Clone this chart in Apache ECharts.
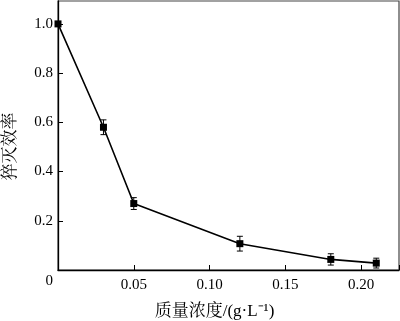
<!DOCTYPE html>
<html>
<head>
<meta charset="utf-8">
<script src="https://cdn.jsdelivr.net/npm/echarts@6/dist/echarts.min.js"></script>
<style>html,body{margin:0;padding:0;background:#fff;}#c{width:400px;height:321px;}</style>
</head>
<body>
<div id="c"></div>
<script>
const concentration = [0, 0.03, 0.05, 0.12, 0.18, 0.21];
const efficiency = [1.0, 0.58, 0.27, 0.107, 0.043, 0.028];
const errorBars = [0, 0.03, 0.024, 0.03, 0.023, 0.02];
const xTicks = [0.05, 0.10, 0.15, 0.20];
const yTicks = [0, 0.2, 0.4, 0.6, 0.8, 1.0];
const xTitle = '质量浓度/(g·L⁻¹)';
const yTitle = '猝灭效率';

const serif = '"Liberation Serif", "Times New Roman", serif';
const cjk = '"Liberation Serif", "Noto Serif CJK SC", "Noto Sans CJK SC", serif';

const lineData = concentration.map((x, i) => [x, efficiency[i]]);
const errData = concentration.map((x, i) => [x, efficiency[i] - errorBars[i], efficiency[i] + errorBars[i]]).filter((d, i) => errorBars[i] > 0);

const chart = echarts.init(document.getElementById('c'));
chart.setOption({
  animation: false,
  grid: { left: 58, right: 1, top: 1, bottom: 51, containLabel: false, outerBoundsMode: 'none',
          show: true, borderColor: '#444', borderWidth: 1.2, backgroundColor: 'transparent' },
  xAxis: {
    type: 'value', min: 0, max: 0.225, interval: 0.05,
    axisLine: { show: true, onZero: false, lineStyle: { color: '#000', width: 1.3 } },
    axisTick: { show: true, inside: true, length: 5, lineStyle: { color: '#000', width: 1 } },
    splitLine: { show: false },
    axisLabel: {
      margin: 8, color: '#000', fontFamily: serif, fontSize: 15,
      formatter: v => (v === 0 ? '' : (xTicks.find(t => Math.abs(t - v) < 1e-9) !== undefined ? v.toFixed(2) : ''))
    },
    name: xTitle, nameLocation: 'middle', nameGap: 33,
    nameTextStyle: { color: '#000', fontFamily: cjk, fontSize: 17, padding: [0, 28, 0, 0] }
  },
  yAxis: {
    type: 'value', min: 0, max: 1.093, interval: 0.2,
    axisLine: { show: true, onZero: false, lineStyle: { color: '#000', width: 1.3 } },
    axisTick: { show: true, inside: true, length: 5, lineStyle: { color: '#000', width: 1 } },
    splitLine: { show: false },
    axisLabel: {
      margin: 5, color: '#000', fontFamily: serif, fontSize: 15, showMaxLabel: false,
      formatter: v => {
        const t = yTicks.find(t => Math.abs(t - v) < 1e-9);
        if (t === undefined) return '';
        return t === 0 ? '{z|0}' : t.toFixed(1);
      },
      rich: { z: { fontFamily: serif, fontSize: 15, color: '#000', padding: [22, 0, 0, 0] } }
    },
    name: yTitle, nameLocation: 'middle', nameGap: 39,
    nameTextStyle: { color: '#000', fontFamily: cjk, fontSize: 17, padding: [0, 22, 0, 0] }
  },
  series: [
    {
      type: 'line', data: lineData, symbol: 'rect', symbolSize: 7,
      lineStyle: { color: '#000', width: 1.6 }, itemStyle: { color: '#000' }, z: 3
    },
    {
      type: 'custom', data: errData, z: 4,
      renderItem: (params, api) => {
        const x = api.value(0);
        const lo = api.coord([x, api.value(1)]);
        const hi = api.coord([x, api.value(2)]);
        const w = 3;
        const s = { stroke: '#000', lineWidth: 1 };
        return { type: 'group', children: [
          { type: 'line', shape: { x1: lo[0], y1: lo[1], x2: hi[0], y2: hi[1] }, style: s },
          { type: 'line', shape: { x1: lo[0] - w, y1: lo[1], x2: lo[0] + w, y2: lo[1] }, style: s },
          { type: 'line', shape: { x1: hi[0] - w, y1: hi[1], x2: hi[0] + w, y2: hi[1] }, style: s }
        ]};
      }
    }
  ]
});
</script>
</body>
</html>
